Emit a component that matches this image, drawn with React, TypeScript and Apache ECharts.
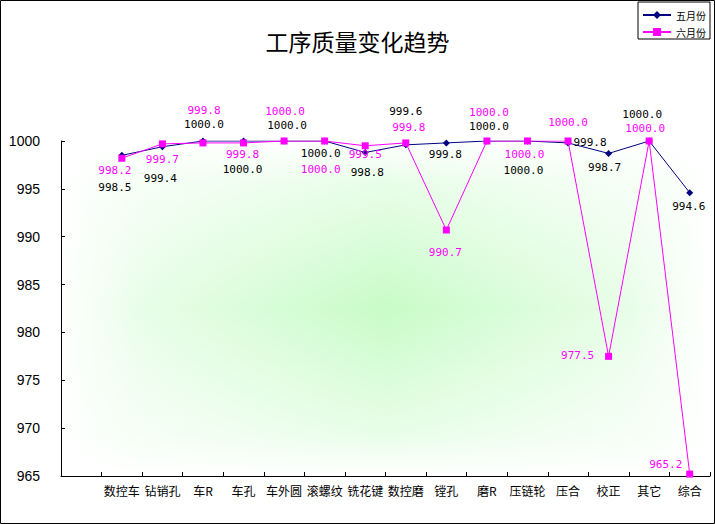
import React, { useEffect, useRef } from "react";
import * as echarts from "echarts";

const categories = ["", "数控车", "钻销孔", "车R", "车孔", "车外圆", "滚螺纹", "铣花键", "数控磨", "镗孔", "磨R", "压链轮", "压合", "校正", "其它", "综合"];
const mayValues = [null, 998.5, 999.4, 1000.0, 1000.0, 1000.0, 1000.0, 998.8, 999.6, 999.8, 1000.0, 1000.0, 999.8, 998.7, 1000.0, 994.6];
const juneValues = [null, 998.2, 999.7, 999.8, 999.8, 1000.0, 1000.0, 999.5, 999.8, 990.7, 1000.0, 1000.0, 1000.0, 977.5, 1000.0, 965.2];
const seriesNames = ["五月份", "六月份"];
const yTicks = { min: 965, max: 1000, interval: 5 };

// label placement (style only): offsets from each marker
const mayLabelOffsets: (number[] | null)[] = [null, [-7, 32], [-2, 32], [1, -17], [-1, 28], [3, -16], [-4, 12], [2, 20], [0, -33], [-1, 12], [2, -15], [-4, 29], [22, 0], [-4, 14], [-7, -27], [-1, 14]];
const juneLabelOffsets: (number[] | null)[] = [null, [-7, 12], [0, 16], [1, -32], [-1, 12], [1, -30], [-4, 28], [0, 9], [3, -15], [-1, 22], [2, -29], [-3, 13], [0, -19], [-31, -1], [-4, -13], [-24, -10]];

const GRID = { left: 61, top: 141, width: 649, height: 335 };

function buildData(values: (number | null)[], offsets: (number[] | null)[], color: string) {
  return values.map((v, i) => {
    if (v === null) return null;
    return {
      value: v,
      label: {
        show: true,
        position: "inside",
        offset: offsets[i] || [0, 0],
        color,
        fontFamily: "DejaVu Sans Mono",
        fontSize: 11,
        lineHeight: 12,
        formatter: (p: any) => Number(p.value).toFixed(1),
      },
    };
  });
}

const fade = [
  { offset: 0, color: "rgba(255,255,255,1)" },
  { offset: 0.12, color: "rgba(255,255,255,0.6)" },
  { offset: 0.5, color: "rgba(255,255,255,0)" },
  { offset: 0.88, color: "rgba(255,255,255,0.6)" },
  { offset: 1, color: "rgba(255,255,255,1)" },
];

export default function App() {
  const ref = useRef<HTMLDivElement>(null);
  useEffect(() => {
    document.body.style.margin = "0";
    const chart = echarts.init(ref.current as HTMLDivElement, null, { renderer: "svg" });
    const gridShape = { x: GRID.left, y: GRID.top, width: GRID.width, height: GRID.height };
    const option: any = {
      animation: false,
      backgroundColor: "#ffffff",
      textStyle: { fontFamily: "Noto Sans CJK SC" },
      title: {
        text: "工序质量变化趋势",
        left: "center",
        top: 24,
        textStyle: { fontSize: 23, fontWeight: "normal", color: "#000", fontFamily: "Noto Sans CJK SC" },
      },
      legend: {
        data: seriesNames,
        orient: "vertical",
        right: 5,
        top: 2,
        padding: [8, 4, 2, 4],
        itemGap: 7,
        itemWidth: 28,
        itemHeight: 10,
        borderColor: "#000",
        borderWidth: 1,
        selectedMode: false,
        textStyle: { fontSize: 10, color: "#000", fontFamily: "Noto Sans CJK SC" },
      },
      graphic: [
        { type: "rect", z: -10, silent: true, shape: gridShape, style: { fill: "#c8fcc8" } },
        {
          type: "rect", z: -9, silent: true, shape: gridShape,
          style: { fill: new echarts.graphic.LinearGradient(0, 0, 1, 0, fade) },
        },
        {
          type: "rect", z: -9, silent: true, shape: gridShape,
          style: { fill: new echarts.graphic.LinearGradient(0, 0, 0, 1, fade) },
        },
        {
          type: "rect", z: 100, silent: true,
          shape: { x: 0.5, y: 0.5, width: 714, height: 523 },
          style: { fill: "none", stroke: "#000", lineWidth: 1 },
        },
      ],
      grid: { left: GRID.left, top: GRID.top, right: 5, bottom: 48, outerBoundsMode: "none", containLabel: false },
      xAxis: {
        type: "category",
        data: categories,
        boundaryGap: true,
        axisLine: { show: true, lineStyle: { color: "#000", width: 1 } },
        axisTick: { show: true, inside: true, length: 4, interval: 0, lineStyle: { color: "#000" } },
        axisLabel: { interval: 0, fontSize: 12, color: "#000", margin: 8, fontFamily: "Noto Sans CJK SC" },
        splitLine: { show: false },
      },
      yAxis: {
        type: "value",
        min: yTicks.min,
        max: yTicks.max,
        interval: yTicks.interval,
        axisLine: { show: true, lineStyle: { color: "#000", width: 1 } },
        axisTick: { show: true, inside: true, length: 4, lineStyle: { color: "#000" } },
        axisLabel: { fontSize: 14, color: "#000", margin: 21, fontFamily: "Liberation Sans", formatter: (v: number) => String(v) },
        splitLine: { show: false },
      },
      series: [
        {
          name: seriesNames[0],
          type: "line",
          data: buildData(mayValues, mayLabelOffsets, "#000000"),
          symbol: "diamond",
          symbolSize: 7,
          connectNulls: false,
          itemStyle: { color: "#000080" },
          lineStyle: { color: "#000080", width: 1 },
          emphasis: { disabled: true },
          z: 2,
        },
        {
          name: seriesNames[1],
          type: "line",
          data: buildData(juneValues, juneLabelOffsets, "#ff00ff"),
          symbol: "rect",
          symbolSize: 7,
          connectNulls: false,
          itemStyle: { color: "#ff00ff" },
          lineStyle: { color: "#ff00ff", width: 1 },
          emphasis: { disabled: true },
          z: 3,
        },
      ],
    };
    chart.setOption(option);
    return () => chart.dispose();
  }, []);
  return <div ref={ref} style={{ width: 715, height: 524 }} />;
}
